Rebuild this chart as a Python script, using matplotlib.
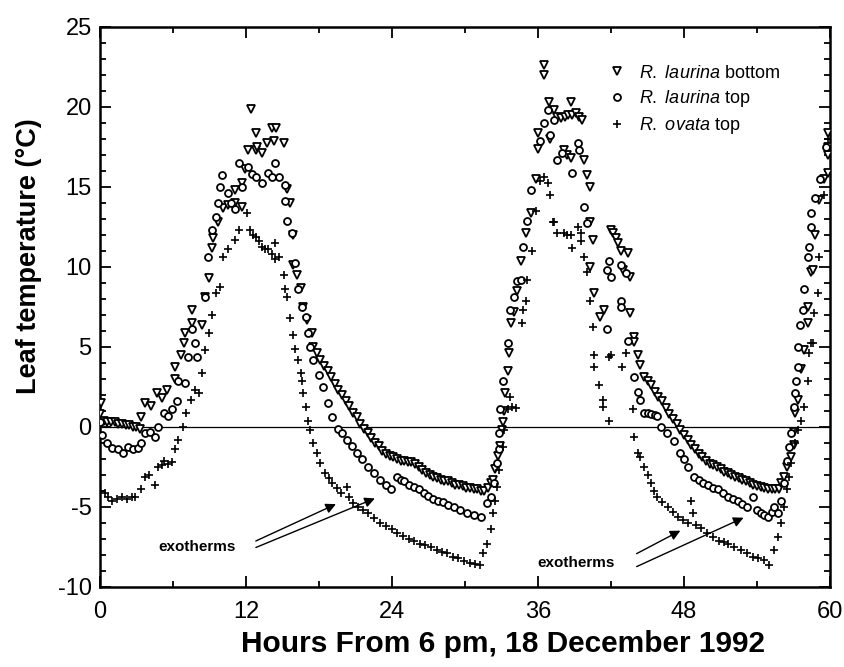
import matplotlib
matplotlib.use('Agg')
import matplotlib.pyplot as plt
from matplotlib.ticker import MultipleLocator

plt.rcParams['font.family'] = ['Liberation Sans', 'DejaVu Sans']
plt.rcParams['mathtext.fontset'] = 'custom'
plt.rcParams['mathtext.it'] = 'Liberation Sans:italic'
plt.rcParams['mathtext.rm'] = 'Liberation Sans'
plt.rcParams['axes.unicode_minus'] = False

# R. laurina bottom (triangles)
bot_h = [0.05, 0.0, 0.3, 0.6, 0.9, 1.2, 1.5, 1.8, 2.1, 2.4, 2.7, 3.0, 3.3,
         3.4, 3.7, 4.2, 4.7, 5.1, 5.5, 6.2, 6.2, 6.7, 6.9, 7.0, 7.6, 7.6, 8.4,
         8.6, 9.0, 9.2, 9.3, 9.7, 10.1, 10.5, 11.1, 11.1, 11.7, 11.7, 11.9,
         12.2, 12.4, 12.8, 12.8, 12.9, 13.3, 13.7, 14.1, 14.3, 14.5, 15.1,
         15.4, 15.6, 15.9, 15.9, 16.2, 16.5, 16.7, 17.0, 17.4,
         17.5, 17.8, 18.1, 18.4, 18.7, 19.0, 19.3, 19.6, 19.9, 20.2, 20.5,
         20.8, 21.1, 21.4, 21.7, 22.0, 22.3, 22.6, 22.9, 23.2, 23.5, 23.8,
         24.1, 24.4, 24.7, 25.0, 25.3, 25.6, 25.9, 26.2, 26.5, 26.8, 27.1,
         27.4, 27.7, 28.0, 28.3, 28.6, 28.9, 29.2, 29.5, 29.8, 30.1, 30.4,
         30.7, 31.0, 31.3, 31.6, 31.9, 32.1, 32.3, 32.5, 32.7, 32.9, 33.0,
         33.1, 33.2, 33.3, 33.5, 33.6, 33.8, 34.0, 34.3, 34.6, 35.0, 35.4,
         35.8, 36.0, 36.0, 36.5, 36.5, 36.9, 37.0, 37.3, 37.6, 37.9, 38.2,
         38.5, 38.7, 38.8, 39.1, 39.4, 39.6, 38.1, 38.4, 38.7, 39.8, 40.0,
         40.3, 40.3, 40.5, 40.3, 40.6, 41.1, 41.4, 42.0, 42.2, 42.4, 42.6,
         42.8, 43.0, 43.4, 43.6, 43.6, 43.9, 43.9, 44.2, 44.4, 44.7,
         45.0, 45.3, 45.6, 45.9, 46.2, 46.5, 46.8, 47.1, 47.4, 47.7, 48.0,
         48.3, 48.6, 48.9, 49.2, 49.5, 49.8, 50.1, 50.4, 50.7, 51.0, 51.3,
         51.6, 51.9, 52.2, 52.5, 52.8, 53.1, 53.4, 53.7, 54.0, 54.3, 54.6,
         54.9, 55.2, 55.5, 55.8, 56.0, 56.2, 56.5, 56.8, 57.0, 57.0, 57.1,
         57.4, 57.6, 57.9, 58.2, 58.2, 58.4, 58.6, 58.8, 59.1, 59.5, 59.8,
         59.8, 59.8, 59.8]
bot_t = [1.5, 0.8, 0.4, 0.3, 0.3, 0.3, 0.2, 0.2, 0.1, 0.1, 0.0, 0.0, -0.1,
         0.6, 1.5, 1.3, 2.1, 1.8, 2.3, 3.0, 3.75, 4.5, 5.25, 5.9, 7.3, 6.5, 6.4,
         8.1, 9.3, 11.2, 11.8, 12.8, 13.7, 13.9, 14.0, 14.8, 13.75, 15.25, 16.1,
         17.3, 19.9, 18.4, 17.3, 17.5, 17.1, 17.75, 18.7, 17.9, 18.7, 17.75,
         14.9, 14.0, 12.0, 10.1, 9.5, 8.7, 7.5, 6.7, 5.9,
         5.0, 4.6, 4.2, 3.8, 3.5, 3.1, 2.7, 2.3, 2.0, 1.6, 1.3,
         0.9, 0.6, 0.2, -0.1, -0.4, -0.7, -1.0, -1.2, -1.5, -1.7, -1.8,
         -1.9, -2.0, -2.1, -2.1, -2.2, -2.2, -2.3, -2.5, -2.7, -2.9, -3.0,
         -3.1, -3.2, -3.3, -3.4, -3.4, -3.5, -3.6, -3.6, -3.7, -3.8, -3.8,
         -3.9, -3.9, -4.0, -4.0, -3.8, -3.5, -3.3, -2.6, -1.8, -1.2, -0.2,
         0.3, 1.0, 2.1, 3.5, 4.6, 6.5, 7.2, 8.5, 10.4, 12.1, 13.4,
         15.5, 17.4, 18.4, 22.6, 22.0, 20.3, 18.0, 19.8, 19.4, 19.3, 19.4,
         19.5, 20.3, 19.5, 19.6, 19.4, 19.2, 17.3, 17.0, 16.8, 16.7, 15.75,
         15.0, 12.8, 11.7, 10.0, 8.4, 6.9, 7.3, 12.3, 12.1, 11.8, 11.5,
         11.0, 9.8, 10.9, 9.4, 7.1, 5.6, 5.3, 4.5, 3.9, 3.1,
         2.9, 2.6, 2.2, 1.9, 1.6, 1.2, 0.8, 0.5, 0.2, -0.2, -0.5,
         -0.8, -1.1, -1.4, -1.7, -1.9, -2.1, -2.3, -2.4, -2.5, -2.6, -2.8,
         -2.9, -3.0, -3.1, -3.2, -3.3, -3.4, -3.5, -3.6, -3.7, -3.75, -3.8,
         -3.85, -3.9, -3.9, -3.9, -3.5, -3.1, -2.5, -1.9, -1.1, -0.3, 0.9,
         1.7, 3.6, 4.8, 6.5, 7.5, 9.7, 9.8, 12.0, 14.2, 15.5, 15.9,
         17.0, 17.5, 18.4]

# R. laurina top (circles)
top_h = [0.0, 0.2, 0.6, 1.0, 1.5, 1.9, 2.3, 2.7, 3.1, 3.4, 3.7, 4.1, 4.5,
         4.8, 5.3, 5.6, 5.9, 6.3, 6.4, 7.0, 7.2, 7.6, 7.8, 8.0, 8.6, 8.9, 9.2,
         9.5, 9.7, 9.9, 10.0, 10.5, 10.8, 11.1, 11.4, 11.7, 12.2, 12.5, 12.8,
         13.3, 13.8, 14.1, 14.4, 14.7, 15.2, 15.2, 15.4, 15.8, 16.0, 16.3,
         16.6, 16.9, 17.1, 17.3, 17.5, 18.0, 18.3, 18.7, 19.1, 19.6, 19.9,
         20.3, 20.7, 21.1, 21.5, 22.0, 22.5, 23.0, 23.5, 23.9, 24.4, 24.7,
         25.0, 25.4, 25.8, 26.2, 26.6, 27.0, 27.4, 27.8, 28.2, 28.6, 29.1,
         29.6, 30.2, 30.7, 31.3, 31.8, 32.1, 32.4, 32.6, 32.8, 32.8, 32.9,
         33.1, 33.5, 33.7, 34.0, 34.3, 34.6, 34.8, 35.1, 35.4, 36.2, 36.5,
         36.8, 37.0, 37.3, 37.6, 38.0, 38.8, 39.3, 39.4, 39.8, 40.0, 41.7,
         41.8, 42.0, 42.8, 43.2, 42.8, 42.8, 41.7, 43.4, 43.9, 44.2, 44.4,
         44.7, 45.0, 45.3, 45.6, 45.8, 46.1, 46.6, 47.2, 47.7, 48.0, 48.3,
         48.8, 49.2, 49.6, 50.0, 50.4, 50.8, 51.2, 51.6, 52.0, 52.4, 52.8,
         53.2, 53.7, 54.0, 54.3, 54.6, 54.9, 55.2, 55.4, 55.7, 56.0, 56.2,
         56.5, 56.6, 56.8, 57.0, 57.1, 57.2, 57.4, 57.4, 57.5, 57.8, 57.9,
         58.2, 58.3, 58.4, 58.4, 58.8, 59.2, 59.7]
top_t = [0.3, -0.5, -1.0, -1.3, -1.4, -1.6, -1.25, -1.4, -1.3, -1.0, -0.4,
         -0.3, -0.6, 0.0, 0.9, 0.7, 1.1, 1.6, 2.9, 2.75, 4.4, 6.1, 5.25, 4.4,
         8.1, 10.6, 12.3, 13.1, 14.0, 15.0, 15.75, 14.6, 14.0, 13.6, 16.5,
         15.0, 16.25, 15.8, 15.6, 15.25, 15.9, 15.6, 16.5, 15.6, 15.1, 14.1,
         12.9, 12.1, 10.25, 8.6, 7.5, 6.9, 5.9, 5.0, 4.2, 3.25, 2.5, 1.5,
         0.6, -0.1, -0.4, -0.8, -1.2, -1.6, -2.0, -2.5, -2.9, -3.3, -3.6,
         -3.9, -3.1, -3.3, -3.4, -3.6, -3.75, -3.9, -4.1, -4.3, -4.5, -4.6,
         -4.7, -4.9, -5.0, -5.2, -5.4, -5.5, -5.6, -4.75, -4.4, -3.5, -2.25,
         -1.4, -0.4, 1.1, 2.9, 5.25, 7.3, 8.1, 9.1, 9.2, 11.25, 12.9, 14.8,
         17.9, 19.0, 19.8, 18.25, 19.2, 16.7, 17.1, 15.9, 17.75, 17.3, 13.75,
         12.75, 9.8, 10.4, 9.4, 10.1, 9.6, 7.9, 7.5, 6.1, 5.4, 3.1, 2.2, 1.7,
         0.9, 0.85, 0.8, 0.75, 0.7, 0.0, -0.4, -0.9, -1.6, -2.0, -2.5, -3.1,
         -3.3, -3.5, -3.6, -3.8, -3.9, -4.1, -4.4, -4.5, -4.6, -4.8, -5.0,
         -4.4, -5.2, -5.4, -5.5, -5.6, -5.3, -5.0, -5.4, -4.6, -3.5, -2.1,
         -1.25, -0.4, 1.25, 2.1, 2.9, 3.75, 5.0, 6.4, 7.3, 8.6, 10.6, 11.25,
         12.5, 13.4, 14.3, 15.5, 17.5]

# R. ovata top (plus)
ova_h = [0.0, 0.4, 0.7, 1.0, 1.4, 1.8, 2.2, 2.6, 2.9, 3.4, 3.7, 4.0, 4.5,
         4.8, 5.1, 5.3, 5.6, 5.9, 6.2, 6.4, 6.8, 7.1, 7.5, 7.8, 8.1, 8.4, 8.6,
         9.0, 9.2, 9.5, 9.9, 10.1, 10.5, 11.1, 11.4, 12.1, 12.3, 12.6, 12.8,
         13.1, 13.3, 13.6, 13.8, 14.1, 14.4, 14.4, 14.7, 15.1, 15.2, 15.4,
         15.6, 15.9, 16.0, 16.3, 16.5, 16.6, 16.7, 16.9, 17.1, 17.3, 17.5,
         17.8, 18.1, 18.5, 18.8, 19.1, 19.5, 19.8, 20.3, 20.5, 20.8, 21.2,
         21.6, 22.0, 22.5, 23.0, 23.5, 24.0, 24.4, 24.9, 25.4, 25.8, 26.3,
         26.7, 27.2, 27.7, 28.1, 28.5, 29.0, 29.4, 29.9, 30.4, 30.8, 31.2,
         31.5, 31.8, 32.1, 32.3, 32.5, 32.6, 32.8, 33.1, 33.2, 33.5, 33.7,
         33.9, 34.2, 34.7, 34.8, 35.0, 35.1, 35.5, 35.8, 36.2, 36.5, 36.8,
         37.0, 37.2, 37.3, 37.6, 38.1, 38.4, 38.7, 38.8, 39.3, 39.5, 39.5,
         39.8, 40.0, 40.3, 40.5, 40.6, 40.6, 41.0, 41.3, 41.3, 41.8, 41.8,
         42.0, 42.9, 43.2, 43.8, 43.9, 44.2, 44.4, 44.7, 45.0, 45.3, 45.5,
         45.8, 46.2, 46.7, 47.1, 47.5, 47.9, 48.3, 48.6, 48.7, 49.0, 49.4,
         49.9, 50.4, 50.9, 51.3, 51.6, 52.1, 52.7, 53.2, 53.7, 54.1, 54.6,
         55.0, 55.4, 55.7, 56.0, 56.2, 56.5, 56.6, 56.8, 57.1, 57.4, 57.6,
         57.9, 58.2, 58.3, 58.4, 58.6, 58.7, 59.0, 59.1, 59.5, 59.8]
ova_t = [-4.0, -4.1, -4.4, -4.6, -4.5, -4.4, -4.5, -4.4, -4.4, -3.9, -3.1,
         -3.0, -3.6, -2.5, -2.4, -2.1, -2.3, -2.2, -1.4, -0.8, 0.0, 0.9, 1.7,
         2.3, 2.1, 3.4, 4.8, 5.9, 7.0, 8.4, 8.75, 10.6, 11.1, 11.7, 12.3, 13.4,
         12.3, 12.0, 11.9, 11.6, 11.25, 11.1, 11.1, 10.8, 11.5, 10.5, 10.6,
         9.5, 8.6, 8.1, 6.8, 5.75, 4.9, 4.2, 3.4, 2.9, 2.1, 1.25, 0.4, -0.2,
         -1.0, -1.6, -2.25, -2.9, -3.2, -3.5, -3.8, -4.1, -3.75, -4.4, -4.75,
         -5.0, -5.2, -5.4, -5.7, -6.0, -6.2, -6.4, -6.6, -6.8, -7.0, -7.1,
         -7.3, -7.4, -7.5, -7.7, -7.8, -7.9, -8.1, -8.2, -8.35, -8.5, -8.55,
         -8.6, -7.9, -7.3, -6.4, -5.4, -4.6, -3.75, -2.7, -1.25, -0.2, 1.1,
         1.9, 1.25, 1.2, 6.5, 7.3, 7.9, 9.2, 11.0, 13.5, 15.4, 15.6, 15.25,
         14.5, 12.8, 12.8, 12.1, 12.1, 12.0, 12.0, 11.2, 12.5, 12.1, 11.6,
         10.6, 9.7, 7.9, 6.25, 4.5, 3.75, 2.6, 1.7, 1.25, 0.4, 4.4, 4.5, 3.75,
         4.6, 1.1, -0.6, -1.6, -1.9, -2.5, -3.0, -3.5, -4.0, -4.4, -4.7, -5.0,
         -5.3, -5.6, -5.8, -6.0, -4.6, -5.4, -6.1, -6.3, -6.6, -6.9, -7.1,
         -7.2, -7.3, -7.5, -7.7, -7.9, -8.1, -8.2, -8.3, -8.6, -7.7, -6.9,
         -6.0, -5.0, -3.9, -3.1, -2.25, -1.0, -0.2, 0.4, 1.25, 2.9, 4.6, 5.25,
         5.25, 7.1, 8.4, 10.6, 14.5, 18.0]

fig = plt.figure(figsize=(8.45, 6.67), dpi=100)
ax = fig.add_axes([0.1183, 0.12, 0.864, 0.8396])

ax.axhline(0, color='black', lw=0.9, zorder=1)

ax.plot(bot_h, bot_t, ls='none', marker='v', ms=5.5, mfc='white', mec='black',
        mew=1.3, label=r'$\mathit{R.\ laurina}$ bottom', zorder=3)
ax.plot(top_h, top_t, ls='none', marker='o', ms=5, mfc='white', mec='black',
        mew=1.3, label=r'$\mathit{R.\ laurina}$ top', zorder=3)
ax.plot(ova_h, ova_t, ls='none', marker='+', ms=6, mec='black', mew=1.2,
        label=r'$\mathit{R.\ ovata}$ top', zorder=3)

ax.set_xlim(0, 60)
ax.set_ylim(-10, 25)
ax.xaxis.set_major_locator(MultipleLocator(12))
ax.xaxis.set_minor_locator(MultipleLocator(6))
ax.yaxis.set_major_locator(MultipleLocator(5))
ax.yaxis.set_minor_locator(MultipleLocator(1))
ax.tick_params(which='both', direction='in', top=True, right=True,
               labelsize=17, width=1.3)
ax.tick_params(axis='x', pad=10)
ax.tick_params(axis='y', pad=6)
ax.tick_params(which='major', length=8)
ax.tick_params(which='minor', length=4)
for s in ax.spines.values():
    s.set_linewidth(1.8)

ax.set_xlabel('Hours From 6 pm, 18 December 1992', fontsize=21.5,
              fontweight='bold')
ax.xaxis.set_label_coords(0.552, -0.077)
ax.set_ylabel('Leaf temperature (\u00b0C)', fontsize=19.5, fontweight='bold')
ax.yaxis.set_label_coords(-0.08, 0.59)

leg = ax.legend(loc='upper left', bbox_to_anchor=(0.676, 0.955), frameon=False,
                fontsize=13, handletextpad=0.6, labelspacing=0.35,
                handlelength=1.2, borderpad=0.2)

# exotherm arrows
arrow = dict(arrowstyle='-|>', color='black', lw=1.0, mutation_scale=15)
ax.text(8.0, -7.5, 'exotherms', fontsize=11, fontweight='bold',
        ha='center', va='center')
ax.annotate('', xy=(19.6, -4.75), xytext=(12.6, -7.2), arrowprops=arrow)
ax.annotate('', xy=(22.8, -4.4), xytext=(12.6, -7.6), arrowprops=arrow)
ax.text(39.1, -8.5, 'exotherms', fontsize=11, fontweight='bold',
        ha='center', va='center')
ax.annotate('', xy=(47.9, -6.4), xytext=(43.9, -8.0), arrowprops=arrow)
ax.annotate('', xy=(53.1, -5.6), xytext=(43.9, -8.8), arrowprops=arrow)

plt.savefig('out.png', dpi=100)
